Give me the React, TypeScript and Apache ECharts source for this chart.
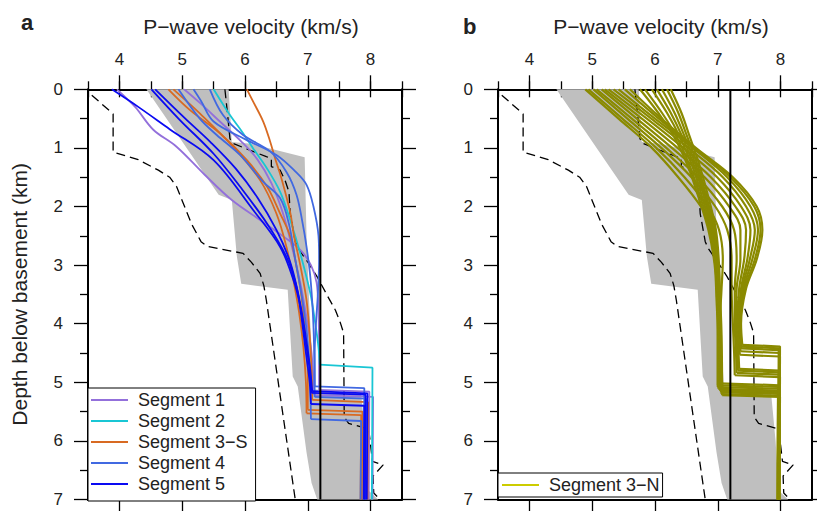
import React, { useEffect, useRef } from 'react';
import * as echarts from 'echarts';

const FONT = '"Liberation Sans", Arial, Helvetica, sans-serif';
const TEXT = '#222';

const velocityTicks = [4, 5, 6, 7, 8];
const vMin = 3.5;
const vMax = 8.5;
const dMin = 0;
const dMax = 7;
const refVelocity = 7.2;

// grey envelope [v, depth]
const greyBand = [
  [4.43, 0], [5.74, 0], [5.79, 0.9], [6.1, 0.93], [6.95, 1.16], [6.98, 2.5], [7.02, 3.6], [7.06, 4.4],
  [7.1, 5.12], [7.85, 5.2], [7.92, 6.0], [7.97, 6.85], [8.12, 7.0], [7.15, 7.0], [7.06, 6.72],
  [6.98, 6.2], [6.84, 5.07], [6.76, 4.9], [6.68, 3.42], [5.94, 3.32], [5.87, 2.85], [5.79, 1.89], [5.58, 1.8],
];

// reference dashed profiles
const dashedSlow = [
  [3.56, 0.1], [3.9, 0.42], [3.9, 1.07], [4.3, 1.2], [4.62, 1.38], [4.8, 1.5], [4.91, 1.66], [5.0, 1.9],
  [5.15, 2.3], [5.3, 2.6], [5.4, 2.68], [5.97, 2.8], [6.1, 2.95], [6.24, 3.14], [6.3, 3.35], [6.34, 3.6], [6.8, 7.0],
];
const dashedFast = [
  [5.68, 0], [5.72, 0.4], [5.76, 0.84], [5.8, 0.92], [6.08, 1.04], [6.34, 1.15], [6.42, 1.18], [6.42, 1.32],
  [6.56, 1.38], [6.64, 1.56], [6.7, 1.75], [6.72, 2.12], [6.8, 2.6], [6.85, 2.72], [7.0, 2.95], [7.15, 3.2],
  [7.3, 3.5], [7.44, 3.77], [7.52, 3.99], [7.57, 4.16], [7.58, 5.59], [7.65, 5.7], [7.97, 5.8], [8.03, 6.35],
  [8.2, 6.41], [8.04, 6.6], [8.05, 6.89], [8.15, 7.0],
];

// Panel a — upper (smooth) parts and lower (step) parts
const segment1Upper = [
  [[3.96, 0], [4.25, 0.3], [4.54, 0.69], [4.91, 0.98], [5.35, 1.45], [5.79, 1.89], [6.24, 2.23], [6.61, 2.51], [6.88, 2.74], [7.05, 3.0], [7.14, 3.3], [7.17, 3.8], [7.18, 4.5], [7.18, 5.13]],
  [[5.03, 0], [5.3, 0.25], [5.6, 0.55], [5.95, 0.9], [6.2, 1.2], [6.42, 1.6], [6.6, 2.1], [6.75, 2.7], [6.88, 3.3], [6.98, 3.9], [7.06, 4.5], [7.1, 5.22]],
];
const segment1Lower = [
  [[7.18, 5.13], [7.98, 5.16], [7.97, 7]],
  [[7.1, 5.22], [8.04, 5.25], [8.03, 7]],
];
const segment2Upper = [
  [[5.5, 0], [5.76, 0.44], [5.95, 0.72], [6.13, 1.01], [6.35, 1.35], [6.56, 1.75], [6.72, 2.23], [6.88, 2.8], [7.04, 3.48], [7.12, 4.0], [7.17, 4.4], [7.19, 4.7]],
];
const segment2Lower = [
  [[7.19, 4.7], [8.03, 4.75], [8.02, 7]],
];
const segment3SUpper = [
  [[6.03, 0], [6.13, 0.21], [6.29, 0.55], [6.4, 0.89], [6.48, 1.18], [6.58, 1.52], [6.72, 2.1], [6.78, 2.5], [6.88, 3.0], [6.98, 3.6], [7.03, 4.2], [7.06, 4.8], [7.07, 5.3]],
  [[4.78, 0], [5.12, 0.35], [5.6, 0.75], [6.03, 1.21], [6.35, 1.66], [6.56, 2.12], [6.72, 2.51], [6.82, 3.03], [6.9, 3.54], [6.96, 4.2], [7.0, 4.9], [7.0, 5.47]],
  [[4.86, 0], [5.28, 0.41], [5.81, 0.98], [6.24, 1.55], [6.5, 2.12], [6.66, 2.69], [6.77, 3.25], [6.86, 3.8], [6.93, 4.4], [6.97, 5.0], [6.98, 5.53]],
];
const segment3SLower = [
  [[7.07, 5.3], [7.96, 5.34], [7.95, 7]],
  [[7.0, 5.47], [7.87, 5.5], [7.86, 7]],
  [[6.98, 5.53], [7.85, 5.56], [7.84, 7]],
];
const segment4Upper = [
  [[5.18, 0], [5.3, 0.2], [5.5, 0.55], [6.0, 0.85], [6.5, 1.12], [6.8, 1.4], [6.98, 1.63], [7.09, 2.0], [7.17, 2.5], [7.18, 2.9], [7.16, 3.5], [7.13, 4.0], [7.11, 4.5], [7.11, 5.07]],
  [[5.44, 0], [5.65, 0.44], [5.97, 0.78], [6.4, 1.06], [6.66, 1.41], [6.82, 1.8], [6.92, 2.3], [6.98, 2.69], [7.04, 3.2], [7.08, 3.8], [7.1, 4.4], [7.11, 5.25]],
  [[4.94, 0], [5.28, 0.5], [5.55, 0.78], [5.92, 1.12], [6.29, 1.58], [6.56, 1.86], [6.7, 2.3], [6.8, 2.9], [6.9, 3.5], [6.98, 4.1], [7.03, 4.8], [7.05, 5.63]],
];
const segment4Lower = [
  [[7.11, 5.07], [7.9, 5.1], [7.89, 7]],
  [[7.11, 5.25], [7.93, 5.28], [7.92, 7]],
  [[7.05, 5.63], [7.85, 5.66], [7.84, 7]],
];
const segment5Upper = [
  [[3.88, 0], [4.3, 0.3], [4.8, 0.68], [5.5, 1.21], [6.13, 2.06], [6.56, 2.69], [6.77, 3.25], [6.88, 3.7], [6.95, 4.2], [7.02, 4.7], [7.06, 5.18]],
  [[4.51, 0], [4.96, 0.52], [5.5, 1.1], [5.92, 1.66], [6.35, 2.29], [6.66, 2.86], [6.82, 3.37], [6.9, 3.9], [6.97, 4.5], [7.03, 5.0], [7.05, 5.37]],
  [[4.57, 0], [5.05, 0.5], [5.45, 0.9], [5.85, 1.35], [6.2, 1.85], [6.5, 2.4], [6.72, 2.95], [6.85, 3.5], [6.95, 4.1], [7.03, 4.7], [7.07, 5.15]],
];
const segment5Lower = [
  [[7.06, 5.18], [7.92, 5.21], [7.91, 7]],
  [[7.05, 5.37], [7.9, 5.4], [7.89, 7]],
  [[7.07, 5.15], [7.95, 5.19], [7.94, 7]],
];

// Panel b — Segment 3−N
const segment3NUpper = [
  [[4.89, 0], [5.42, 0.5], [5.95, 1.0], [6.37, 1.5], [6.73, 2.0], [6.92, 2.4], [6.99, 2.9], [7.0, 3.4], [7.0, 4.0], [7.0, 4.6], [7.0, 5.05]],
  [[4.94, 0], [5.48, 0.5], [6.02, 1.0], [6.47, 1.5], [6.84, 2.0], [7.02, 2.4], [7.08, 2.9], [7.06, 3.4], [7.03, 4.0], [7.02, 4.6], [7.02, 5.02]],
  [[5.02, 0], [5.56, 0.5], [6.1, 1.0], [6.58, 1.5], [6.96, 2.0], [7.15, 2.4], [7.22, 2.9], [7.22, 3.4], [7.24, 4.0], [7.26, 4.5], [7.27, 4.88]],
  [[5.07, 0], [5.63, 0.5], [6.18, 1.0], [6.68, 1.5], [7.07, 2.0], [7.26, 2.4], [7.3, 2.9], [7.27, 3.4], [7.27, 4.0], [7.29, 4.5], [7.3, 4.84]],
  [[5.15, 0], [5.71, 0.5], [6.27, 1.0], [6.79, 1.5], [7.18, 2.0], [7.36, 2.4], [7.36, 2.9], [7.3, 3.4], [7.29, 4.0], [7.31, 4.5], [7.32, 4.8]],
  [[5.2, 0], [5.79, 0.5], [6.36, 1.0], [6.89, 1.5], [7.28, 2.0], [7.45, 2.4], [7.42, 2.9], [7.34, 3.4], [7.31, 4.0], [7.33, 4.5], [7.34, 4.77]],
  [[5.26, 0], [5.87, 0.5], [6.45, 1.0], [6.99, 1.5], [7.37, 2.0], [7.52, 2.4], [7.47, 2.9], [7.37, 3.4], [7.33, 4.0], [7.35, 4.53]],
  [[5.34, 0], [5.94, 0.5], [6.53, 1.0], [7.08, 1.5], [7.45, 2.0], [7.59, 2.4], [7.51, 2.9], [7.39, 3.4], [7.34, 4.0], [7.36, 4.47]],
  [[5.42, 0], [6.0, 0.5], [6.6, 1.0], [7.15, 1.5], [7.52, 2.0], [7.64, 2.4], [7.55, 2.9], [7.41, 3.4], [7.35, 4.0], [7.37, 4.42]],
  [[5.52, 0], [6.06, 0.5], [6.63, 1.0], [7.2, 1.5], [7.58, 2.0], [7.68, 2.4], [7.59, 2.9], [7.43, 3.4], [7.36, 4.0], [7.38, 4.39]],
  [[5.6, 0], [6.1, 0.5], [6.65, 1.0], [7.24, 1.5], [7.62, 2.0], [7.71, 2.4], [7.62, 2.9], [7.45, 3.4], [7.37, 4.0], [7.39, 4.36]],
  [[5.76, 0], [6.05, 0.4], [6.3, 0.8], [6.52, 1.3], [6.68, 1.8], [6.85, 2.4], [6.95, 3.0], [6.98, 3.6], [7.0, 4.2], [7.0, 5.08]],
  [[5.84, 0], [6.11, 0.4], [6.34, 0.8], [6.55, 1.3], [6.71, 1.8], [6.87, 2.4], [6.96, 3.0], [6.99, 3.6], [7.01, 4.2], [7.01, 5.11]],
  [[5.95, 0], [6.19, 0.4], [6.39, 0.8], [6.59, 1.3], [6.74, 1.8], [6.89, 2.4], [6.97, 3.0], [7.0, 3.6], [7.02, 4.2], [7.03, 5.13]],
  [[6.03, 0], [6.25, 0.4], [6.43, 0.8], [6.62, 1.3], [6.77, 1.8], [6.91, 2.4], [6.98, 3.0], [7.01, 3.6], [7.03, 4.2], [7.04, 5.15]],
  [[6.11, 0], [6.31, 0.4], [6.47, 0.8], [6.65, 1.3], [6.79, 1.8], [6.93, 2.4], [6.99, 3.0], [7.02, 3.6], [7.04, 4.2], [7.05, 5.17]],
  [[6.19, 0], [6.37, 0.4], [6.51, 0.8], [6.68, 1.3], [6.81, 1.8], [6.95, 2.4], [7.0, 3.0], [7.03, 3.6], [7.05, 4.2], [7.06, 5.2]],
  [[6.25, 0], [6.42, 0.4], [6.55, 0.8], [6.71, 1.3], [6.84, 1.8], [6.97, 2.4], [7.02, 3.0], [7.04, 3.6], [7.06, 4.2], [7.07, 5.22]],
];
const segment3NLower = [
  [[7.0, 5.05], [7.97, 5.08], [7.96, 7]],
  [[7.02, 5.02], [7.98, 5.05], [7.97, 7]],
  [[7.27, 4.88], [7.99, 4.91], [7.98, 7]],
  [[7.3, 4.84], [7.98, 4.87], [7.97, 7]],
  [[7.32, 4.8], [7.97, 4.83], [7.96, 7]],
  [[7.34, 4.77], [7.98, 4.8], [7.97, 7]],
  [[7.35, 4.53], [7.99, 4.56], [7.98, 7]],
  [[7.36, 4.47], [7.98, 4.5], [7.97, 7]],
  [[7.37, 4.42], [7.97, 4.45], [7.96, 7]],
  [[7.38, 4.39], [7.98, 4.42], [7.97, 7]],
  [[7.39, 4.36], [7.99, 4.39], [7.98, 7]],
  [[7.0, 5.08], [7.96, 5.11], [7.95, 7]],
  [[7.01, 5.11], [7.97, 5.14], [7.96, 7]],
  [[7.03, 5.13], [7.98, 5.16], [7.97, 7]],
  [[7.04, 5.15], [7.96, 5.18], [7.95, 7]],
  [[7.05, 5.17], [7.97, 5.2], [7.96, 7]],
  [[7.06, 5.2], [7.98, 5.23], [7.97, 7]],
  [[7.07, 5.22], [7.99, 5.25], [7.98, 7]],
];

const panelASegments = [
  { name: 'Segment 1', color: '#9370DB', upper: segment1Upper, lower: segment1Lower },
  { name: 'Segment 2', color: '#19C6D4', upper: segment2Upper, lower: segment2Lower },
  { name: 'Segment 3−S', color: '#D86A22', upper: segment3SUpper, lower: segment3SLower },
  { name: 'Segment 4', color: '#4169E1', upper: segment4Upper, lower: segment4Lower },
  { name: 'Segment 5', color: '#0A0AF2', upper: segment5Upper, lower: segment5Lower },
];
const panelBSegment = { name: 'Segment 3−N', color: '#8A8A00', legendColor: '#CCCC00', upper: segment3NUpper, lower: segment3NLower };

export default function App() {
  const ref = useRef<HTMLDivElement>(null);

  useEffect(() => {
    if (!ref.current) return;
    const chart = echarts.init(ref.current, null, { renderer: 'svg' });

    const gridLefts = [88, 498];
    const tickLine = { color: '#000', width: 1.3 };
    const frameLine = { color: '#000', width: 2 };

    const xAxis: any[] = [];
    const yAxis: any[] = [];
    gridLefts.forEach((_, g) => {
      const base = { gridIndex: g, type: 'value', min: vMin, max: vMax, interval: 0.5, splitLine: { show: false } };
      xAxis.push({
        ...base, position: 'top',
        axisLine: { show: true, onZero: false, lineStyle: frameLine },
        axisTick: { show: true, length: 14, customValues: velocityTicks, lineStyle: tickLine },
        axisLabel: { show: true, customValues: velocityTicks, margin: 21, fontSize: 17, color: TEXT, fontFamily: FONT },
        name: 'P−wave velocity (km/s)', nameLocation: 'middle', nameGap: 52,
        nameTextStyle: { fontSize: 21, color: TEXT, fontFamily: FONT, padding: [0, 0, 0, 12] },
      });
      xAxis.push({
        ...base, position: 'top',
        axisLine: { show: false }, axisTick: { show: true, length: 8, lineStyle: tickLine }, axisLabel: { show: false },
      });
      xAxis.push({
        ...base, position: 'bottom',
        axisLine: { show: true, onZero: false, lineStyle: frameLine },
        axisTick: { show: true, length: 14, customValues: velocityTicks, lineStyle: tickLine },
        axisLabel: { show: false },
      });
      xAxis.push({
        ...base, position: 'bottom',
        axisLine: { show: false }, axisTick: { show: true, length: 8, lineStyle: tickLine }, axisLabel: { show: false },
      });
      const ybase = {
        gridIndex: g, type: 'value', min: dMin, max: dMax, interval: 1, inverse: true,
        splitLine: { show: false },
        axisLine: { show: true, onZero: false, lineStyle: frameLine },
        axisTick: { show: true, length: 14, lineStyle: tickLine },
        minorTick: { show: true, splitNumber: 2, length: 8, lineStyle: tickLine },
        minorSplitLine: { show: false },
      };
      yAxis.push({
        ...ybase, position: 'left',
        axisLabel: { show: true, margin: 25, fontSize: 17, color: TEXT, fontFamily: FONT },
        ...(g === 0 ? {
          name: 'Depth below basement (km)', nameLocation: 'middle', nameGap: 58,
          nameTextStyle: { fontSize: 21, color: TEXT, fontFamily: FONT },
        } : {}),
      });
      yAxis.push({ ...ybase, position: 'right', axisLabel: { show: false } });
    });

    const series: any[] = [];
    gridLefts.forEach((_, g) => {
      const xi = g * 4;
      const yi = g * 2;
      series.push({
        type: 'custom', xAxisIndex: xi, yAxisIndex: yi, silent: true, z: 1,
        data: [[6, 3]],
        renderItem: (_p: any, api: any) => ({
          type: 'polygon',
          shape: { points: greyBand.map((p) => api.coord(p)) },
          style: { fill: '#BFBFBF', stroke: 'none' },
        }),
      });
      [dashedSlow, dashedFast].forEach((d) => {
        series.push({
          type: 'line', xAxisIndex: xi, yAxisIndex: yi, data: d, symbol: 'none', silent: true, z: 2,
          lineStyle: { color: '#000', width: 1.3, type: [9, 5] },
        });
      });
    });

    const addCurves = (seg: any, xi: number, yi: number, width: number) => {
      seg.upper.forEach((pts: number[][], i: number) => {
        series.push({
          type: 'line', name: seg.name, xAxisIndex: xi, yAxisIndex: yi, data: pts, symbol: 'none', smooth: 0.35,
          silent: true, z: 3, lineStyle: { color: seg.color, width }, itemStyle: { color: seg.color },
        });
        series.push({
          type: 'line', name: seg.name, xAxisIndex: xi, yAxisIndex: yi, data: seg.lower[i], symbol: 'none',
          silent: true, z: 3, lineStyle: { color: seg.color, width }, itemStyle: { color: seg.color },
        });
      });
    };
    panelASegments.forEach((s) => addCurves(s, 0, 0, 1.8));
    addCurves(panelBSegment, 4, 2, 2.2);

    gridLefts.forEach((_, g) => {
      series.push({
        type: 'line', xAxisIndex: g * 4, yAxisIndex: g * 2, data: [[refVelocity, dMin], [refVelocity, dMax]],
        symbol: 'none', silent: true, z: 5, lineStyle: { color: '#000', width: 2 },
      });
    });

    const legendCommon = {
      orient: 'vertical', icon: 'rect', itemWidth: 37, itemHeight: 2, itemGap: 3, selectedMode: false,
      borderColor: '#000', borderWidth: 1, borderRadius: 0, backgroundColor: '#fff',
      textStyle: { fontSize: 18, color: TEXT, fontFamily: FONT, padding: [0, 0, 0, 5] },
    };

    chart.setOption({
      animation: false,
      backgroundColor: '#fff',
      textStyle: { fontFamily: FONT },
      title: [
        { text: 'a', left: 16, top: 6, textStyle: { fontSize: 22, fontWeight: 'bold', color: TEXT, fontFamily: FONT } },
        { text: 'b', left: 458, top: 10, textStyle: { fontSize: 22, fontWeight: 'bold', color: TEXT, fontFamily: FONT } },
      ],
      grid: gridLefts.map((l) => ({ left: l, top: 89.3, width: 314, height: 410.2 })),
      xAxis,
      yAxis,
      legend: [
        { ...legendCommon, data: panelASegments.map((s) => s.name), left: 88, top: 388, padding: [3, 8, 8, 3] },
        {
          ...legendCommon, data: [{ name: panelBSegment.name, itemStyle: { color: panelBSegment.legendColor } }],
          left: 498, top: 473, padding: [3, 3, 3, 4],
        },
      ],
      series,
    });

    return () => chart.dispose();
  }, []);

  return <div ref={ref} style={{ position: 'fixed', left: 0, top: 0, width: 817, height: 511 }} />;
}
